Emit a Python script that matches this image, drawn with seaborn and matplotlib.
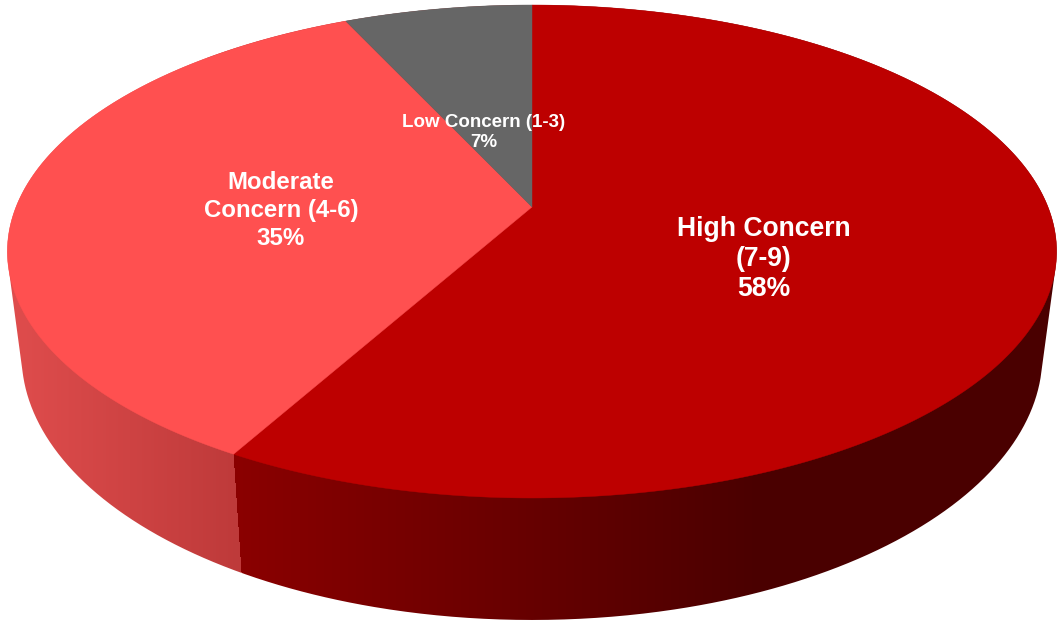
import numpy as np
import matplotlib
matplotlib.use("Agg")
import matplotlib.pyplot as plt
from matplotlib.path import Path
from matplotlib.patches import PathPatch
import seaborn as sns

# --- data -----------------------------------------------------------------
labels = ["High Concern\n(7-9)\n58%", "Moderate\nConcern (4-6)\n35%", "Low Concern (1-3)\n7%"]
shares = [58.1, 35.0, 6.9]
top_colors = ["#BD0000", "#FF5050", "#666666"]
label_sizes = [19.1, 17.3, 13.5]
label_xy = [(763.5, 259), (281, 210.5), (483.5, 132.5)]
label_spacing = [1.21, 1.27, 1.2]

# --- pie geometry (perspective view of a disc) ----------------------------
CX, CY = 532.0, 207.0
A, M, K = 516.0, 201.1, 0.1805
RIM_X, RIM_Y = 0.973, 1.075
TOP_MID, BOTTOM_MID = 251.5, 355.0


def top_xy(theta):
    X, Y = np.sin(theta), -np.cos(theta)
    w = 1 - K * Y
    return CX + A * X / w, (CY + M * Y) / w


def bottom_xy(theta):
    x, y = top_xy(theta)
    return CX + RIM_X * (x - CX), BOTTOM_MID + RIM_Y * (y - TOP_MID)


def hull(points):
    pts = sorted(set(map(tuple, points)))
    def half(seq):
        out = []
        for p in seq:
            while len(out) > 1 and ((out[-1][0]-out[-2][0])*(p[1]-out[-2][1]) -
                                    (out[-1][1]-out[-2][1])*(p[0]-out[-2][0])) <= 0:
                out.pop()
            out.append(p)
        return out[:-1]
    return np.array(half(pts) + half(pts[::-1]))


sns.set_theme(style="white")
plt.rcParams["font.family"] = ["Liberation Sans", "DejaVu Sans"]

fig = plt.figure(figsize=(10.6, 6.23), dpi=100, facecolor="white")
ax = fig.add_axes([0, 0, 1, 1])
ax.set_xlim(0, 1060)
ax.set_ylim(623, 0)
ax.axis("off")

fractions = np.cumsum([0] + shares) / sum(shares)
angles = 2 * np.pi * fractions
seam_theta = angles[1]

# side wall: gradient image clipped to the hull of both rims
t = np.linspace(0, 2 * np.pi, 1441)
all_pts = np.vstack([np.column_stack(top_xy(t)), np.column_stack(bottom_xy(t))])
outline = hull(all_pts)

x0, y0 = top_xy(seam_theta)
x1, y1 = bottom_xy(seam_theta)
gx = np.arange(1060) + 0.5
gy = np.arange(623) + 0.5
GX, GY = np.meshgrid(gx, gy)
seam_x = x0 + (GY - y0) * (x1 - x0) / (y1 - y0)

left_r = np.interp(GX, [20, 240], [222, 190])
left_g = np.interp(GX, [20, 240], [76, 58])
right_r = np.interp(GX, [243, 760], [138, 74])
is_left = GX < seam_x
img = np.zeros(GX.shape + (3,))
img[..., 0] = np.where(is_left, left_r, right_r)
img[..., 1] = np.where(is_left, left_g, 0)
img[..., 2] = np.where(is_left, left_g, 0)
im = ax.imshow(img / 255.0, extent=(0, 1060, 623, 0), aspect="auto", zorder=1, interpolation="bilinear")
ax.set_xlim(0, 1060)
ax.set_ylim(623, 0)
clip = PathPatch(Path(outline), transform=ax.transData, fc="none", ec="none")
ax.add_patch(clip)
im.set_clip_path(clip)

# top face
for i, col in enumerate(top_colors):
    th = np.linspace(angles[i], angles[i + 1], 400)
    xs, ys = top_xy(th)
    ax.fill(np.r_[CX, xs], np.r_[CY, ys], color=col, lw=0.3, zorder=2 + i * 0.1)

# labels
for txt, size, (lx, ly), sp in zip(labels, label_sizes, label_xy, label_spacing):
    ax.text(lx, ly, txt, color="white", fontsize=size, fontweight="bold",
            ha="center", va="center", multialignment="center", linespacing=sp, zorder=5)

fig.savefig("out.png", dpi=100, facecolor="white")
